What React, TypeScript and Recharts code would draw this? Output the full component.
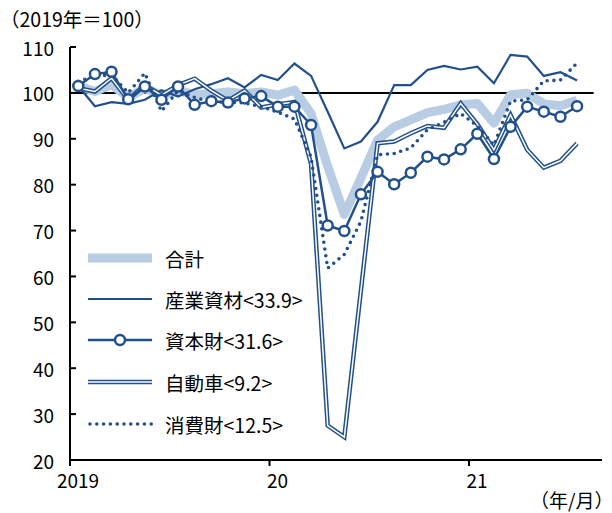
import React from 'react';
import { LineChart, Line, XAxis, YAxis, ReferenceLine } from 'recharts';

// Monthly index, 2019 average = 100
const months = [
  '2019/1', '2019/2', '2019/3', '2019/4', '2019/5', '2019/6', '2019/7', '2019/8', '2019/9', '2019/10', '2019/11', '2019/12',
  '2020/1', '2020/2', '2020/3', '2020/4', '2020/5', '2020/6', '2020/7', '2020/8', '2020/9', '2020/10', '2020/11', '2020/12',
  '2021/1', '2021/2', '2021/3', '2021/4', '2021/5', '2021/6', '2021/7',
];

const total = [
  101.5, 100.3, 101.8, 99.0, 101.0, 99.5, 100.5, 99.6, 99.8, 100.2, 99.8, 100.2,
  99.5, 100.6, 95.5, 84.0, 73.5, 81.5, 89.7, 92.6, 94.1, 95.7, 96.4, 97.4,
  97.7, 93.4, 99.6, 99.9, 97.6, 97.2, 98.4,
];

const industrial = [
  101.5, 97.1, 98.0, 97.6, 98.5, 100.6, 99.2, 100.8, 101.9, 103.2, 101.2, 103.9,
  102.8, 106.4, 103.7, 95.9, 87.9, 89.4, 93.7, 101.7, 101.7, 105.0, 105.9, 105.1,
  105.7, 102.1, 108.3, 107.9, 103.7, 104.5, 102.7,
];

const capital = [
  101.5, 104.1, 104.6, 98.6, 101.4, 98.5, 101.4, 97.4, 98.2, 97.9, 98.8, 99.3,
  97.0, 97.0, 93.0, 71.1, 69.9, 77.9, 82.8, 80.1, 82.6, 86.1, 85.5, 87.7,
  91.1, 85.6, 92.6, 97.0, 95.9, 94.8, 97.1,
];

const automobile = [
  101.0, 100.3, 103.2, 98.5, 101.7, 99.5, 101.7, 103.1, 100.5, 98.3, 100.5, 96.8,
  97.5, 98.0, 84.5, 27.5, 25.0, 57.0, 89.0, 89.4, 91.2, 92.8, 92.4, 97.7,
  93.2, 87.6, 95.2, 87.6, 83.7, 85.2, 89.0,
];

const consumer = [
  102.5, 103.7, 103.9, 100.0, 104.3, 96.0, 100.5, 99.0, 98.0, 98.0, 97.8, 97.0,
  95.8, 94.3, 86.0, 61.8, 64.8, 72.0, 86.5, 86.8, 88.0, 92.0, 93.6, 95.5,
  92.8, 88.6, 98.2, 98.5, 102.6, 102.8, 106.5,
];

const yearTicks = [0, 12, 24];
const yearLabels = ['2019', '20', '21'];
const valueTicks = [20, 30, 40, 50, 60, 70, 80, 90, 100, 110];

const legendNames = ['合計', '産業資材<33.9>', '資本財<31.6>', '自動車<9.2>', '消費財<12.5>'];

const DARK = '#22508c';
const LIGHT = '#b8cce4';
const FONT = '"Noto Sans CJK JP", "Noto Sans", sans-serif';
const TICK_FONT_SIZE = 19;
const TEXT_FONT_SIZE = 19.5;

// each month is plotted at its midpoint on a continuous month axis
const data = months.map((label, i) => ({
  label,
  pos: i + 0.5,
  total: total[i],
  industrial: industrial[i],
  capital: capital[i],
  automobile: automobile[i],
  consumer: consumer[i],
}));

const AXIS_X = 70;
const AXIS_Y = 460;

const YTick = (props: any) => {
  const { y, payload } = props;
  return (
    <g>
      <line x1={AXIS_X} x2={AXIS_X + 6} y1={y} y2={y} stroke="#000" strokeWidth={2} />
      <text x={54} y={y} textAnchor="end" dominantBaseline="central" fontSize={TICK_FONT_SIZE} fontFamily={FONT} fill="#000">
        {payload.value}
      </text>
    </g>
  );
};

const XTick = (props: any) => {
  const { x, payload, index } = props;
  return (
    <g>
      <line x1={x} x2={x} y1={AXIS_Y} y2={AXIS_Y + 6} stroke="#000" strokeWidth={2} />
      <text x={x + 8} y={479} textAnchor="middle" dominantBaseline="central" fontSize={TICK_FONT_SIZE} fontFamily={FONT} fill="#000">
        {yearLabels[index] ?? payload.value}
      </text>
    </g>
  );
};

// Legend block drawn over the lower-left of the plot
const LegendBlock = () => {
  const rowY = [258, 299, 340, 382, 424];
  const x1 = 88;
  const x2 = 152;
  return (
    <svg width={612} height={513} style={{ position: 'absolute', left: 0, top: 0, pointerEvents: 'none' }}>
      {legendNames.map((name, i) => {
        const y = rowY[i];
        let sample: React.ReactNode = null;
        if (i === 0) {
          sample = <line x1={x1} x2={x2} y1={y} y2={y} stroke={LIGHT} strokeWidth={9} />;
        } else if (i === 1) {
          sample = <line x1={x1} x2={x2} y1={y} y2={y} stroke={DARK} strokeWidth={2.2} />;
        } else if (i === 2) {
          sample = (
            <g>
              <line x1={x1} x2={x2} y1={y} y2={y} stroke={DARK} strokeWidth={2.5} />
              <circle cx={(x1 + x2) / 2} cy={y} r={5} fill="#fff" stroke={DARK} strokeWidth={2.5} />
            </g>
          );
        } else if (i === 3) {
          sample = (
            <g>
              <line x1={x1} x2={x2} y1={y} y2={y} stroke={DARK} strokeWidth={4.5} />
              <line x1={x1} x2={x2} y1={y} y2={y} stroke="#fff" strokeWidth={1.5} />
            </g>
          );
        } else {
          sample = (
            <line x1={x1 + 2} x2={x2} y1={y} y2={y} stroke={DARK} strokeWidth={3.6} strokeDasharray="0 6.8" strokeLinecap="round" />
          );
        }
        return (
          <g key={name}>
            {sample}
            <text x={165} y={y} dominantBaseline="central" fontSize={TEXT_FONT_SIZE} fontFamily={FONT} fill="#000">
              {name}
            </text>
          </g>
        );
      })}
    </svg>
  );
};

export default function App() {
  return (
    <div style={{ position: 'absolute', left: 0, top: 0, width: 612, height: 513, background: '#fff', overflow: 'hidden' }}>
      <div style={{ position: 'absolute', left: 0, top: 7, fontSize: TEXT_FONT_SIZE, lineHeight: '24px', fontFamily: FONT, whiteSpace: 'nowrap' }}>
        （2019年＝100）
      </div>
      <LineChart
        width={612}
        height={513}
        data={data}
        margin={{ top: 47, right: 10, bottom: 0, left: 0 }}
      >
        <XAxis
          dataKey="pos"
          type="number"
          domain={[0, 32]}
          ticks={yearTicks}
          interval={0}
          height={53}
          axisLine={{ stroke: '#000', strokeWidth: 2 }}
          tickLine={false}
          tick={<XTick />}
          allowDataOverflow
        />
        <YAxis
          type="number"
          domain={[20, 110]}
          ticks={valueTicks}
          interval={0}
          width={70}
          axisLine={{ stroke: '#000', strokeWidth: 2 }}
          tickLine={false}
          tick={<YTick />}
          allowDataOverflow
        />
        <ReferenceLine
          segment={[{ x: 0, y: 100 }, { x: 31.5, y: 100 }]}
          stroke="#000"
          strokeWidth={2}
        />
        <Line dataKey="total" stroke={LIGHT} strokeWidth={9} dot={false} isAnimationActive={false} strokeLinejoin="round" />
        <Line dataKey="industrial" stroke={DARK} strokeWidth={2.2} dot={false} isAnimationActive={false} />
        <Line dataKey="automobile" stroke={DARK} strokeWidth={4.5} dot={false} isAnimationActive={false} />
        <Line dataKey="automobile" stroke="#fff" strokeWidth={1.5} dot={false} isAnimationActive={false} legendType="none" />
        <Line
          dataKey="consumer"
          stroke={DARK}
          strokeWidth={3.6}
          strokeDasharray="0 6.8"
          strokeLinecap="round"
          dot={false}
          isAnimationActive={false}
        />
        <Line
          dataKey="capital"
          stroke={DARK}
          strokeWidth={2.5}
          dot={{ r: 5, fill: '#fff', stroke: DARK, strokeWidth: 2.5 }}
          isAnimationActive={false}
        />
      </LineChart>
      <LegendBlock />
      <div style={{ position: 'absolute', left: 530, top: 488, fontSize: 19, lineHeight: '24px', fontFamily: FONT, whiteSpace: 'nowrap' }}>
        （年/月）
      </div>
    </div>
  );
}
